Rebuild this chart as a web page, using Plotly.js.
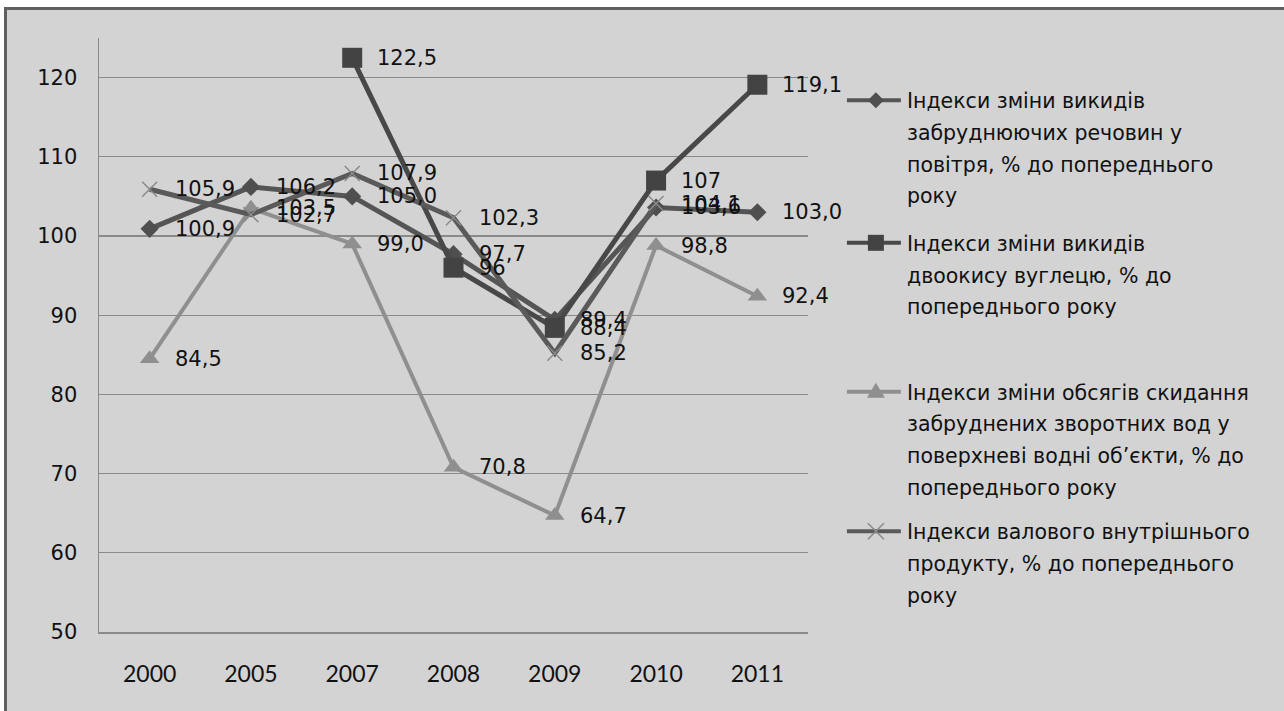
<!DOCTYPE html>
<html>
<head>
<meta charset="utf-8">
<script src="https://cdn.plot.ly/plotly-3.0.1.min.js"></script>
<style>
  html, body { margin: 0; padding: 0; background: #ffffff; }
  #chart {
    position: absolute; left: 4px; top: 7px;
    width: 1277px; height: 701px;
    border-left: 3px solid #606060; border-top: 3px solid #606060;
  }
</style>
</head>
<body>
<div id="chart"></div>
<script>
// ---- data ----
const categories = ['2000', '2005', '2007', '2008', '2009', '2010', '2011'];
const airEmissions = [100.9, 106.2, 105.0, 97.7, 89.4, 103.6, 103.0];
const co2Emissions = [null, null, 122.5, 96, 88.4, 107, 119.1];
const wasteWater = [84.5, 103.5, 99.0, 70.8, 64.7, 98.8, 92.4];
const gdp = [105.9, 102.7, 107.9, 102.3, 85.2, 104.1, null];
const yTicks = [50, 60, 70, 80, 90, 100, 110, 120];

const legendLines = [
  ['Індекси зміни викидів', 'забруднюючих речовин у', 'повітря, % до попереднього', 'року'],
  ['Індекси зміни викидів', 'двоокису вуглецю, % до', 'попереднього року'],
  ['Індекси зміни обсягів скидання', 'забруднених зворотних вод у', 'поверхневі водні об’єкти, % до', 'попереднього року'],
  ['Індекси валового внутрішнього', 'продукту, % до попереднього', 'року']
];

// ---- styles ----
const series = [
  { y: airEmissions, decimals: true, color: '#4f4f4f', lineColor: '#555555', width: 5,
    marker: { symbol: 'diamond', size: 14, color: '#4f4f4f' } },
  { y: co2Emissions, decimals: false, color: '#434343', lineColor: '#484848', width: 5,
    marker: { symbol: 'square', size: 20, color: '#434343' } },
  { y: wasteWater, decimals: true, color: '#8f8f8f', lineColor: '#8f8f8f', width: 4,
    marker: { symbol: 'triangle-up', size: 17, color: '#8f8f8f' } },
  { y: gdp, decimals: true, color: '#5a5a5a', lineColor: '#5a5a5a', width: 5,
    marker: { symbol: 'x-thin-open', size: 15, color: '#8a8a8a', line: { color: '#8a8a8a', width: 1.5 } } }
];

const fmt = (v, dec) => (dec ? v.toFixed(1) : String(v)).replace('.', ',');

const traces = series.map(s => ({
  type: 'scatter', mode: 'lines+markers',
  x: categories, y: s.y,
  line: { color: s.lineColor, width: s.width },
  marker: s.marker,
  connectgaps: false, showlegend: false, hoverinfo: 'skip'
}));

const annotations = [];
series.forEach(s => {
  s.y.forEach((v, i) => {
    if (v === null) return;
    annotations.push({
      x: i, y: v, xref: 'x', yref: 'y',
      text: fmt(v, s.decimals), showarrow: false,
      xanchor: 'left', yanchor: 'middle', xshift: 23,
      font: { family: 'DejaVu Sans', size: 21, color: '#111111' }
    });
  });
});

// ---- manual legend (image pixel -> paper) ----
const plotLeft = 99, plotW = 710, plotBottom = 631.7, plotH = 594;
const px = x => (x - plotLeft) / plotW;
const py = y => (plotBottom - y) / plotH;

const legendFirstLine = [101, 243.5, 392.5, 532];
const lineGap = 31.7;
const shapes = [];
legendLines.forEach((lines, k) => {
  const y0 = legendFirstLine[k];
  lines.forEach((t, j) => {
    annotations.push({
      x: px(906), y: py(y0 + j * lineGap), xref: 'paper', yref: 'paper',
      text: t, showarrow: false, xanchor: 'left', yanchor: 'middle',
      font: { family: 'DejaVu Sans', size: 20.5, color: '#111111' }
    });
  });
  const s = series[k];
  const symY = py(y0 - 1);
  shapes.push({
    type: 'line', xref: 'paper', yref: 'paper',
    x0: px(848), x1: px(902), y0: symY, y1: symY,
    line: { color: s.lineColor, width: 4 }
  });
  const cx = px(877);
  const common = { xref: 'paper', yref: 'paper', xsizemode: 'pixel', ysizemode: 'pixel',
                   xanchor: cx, yanchor: symY };
  if (k === 0) {
    shapes.push(Object.assign({ type: 'path', path: 'M-8,0 L0,8 L8,0 L0,-8 Z',
      fillcolor: s.color, line: { width: 0 } }, common));
  } else if (k === 1) {
    shapes.push(Object.assign({ type: 'rect', x0: -8, x1: 8, y0: -8, y1: 8,
      fillcolor: s.color, line: { width: 0 } }, common));
  } else if (k === 2) {
    shapes.push(Object.assign({ type: 'path', path: 'M-9,-6 L9,-6 L0,9 Z',
      fillcolor: s.color, line: { width: 0 } }, common));
  } else {
    shapes.push(Object.assign({ type: 'path', path: 'M-8,-8 L8,8 M-8,8 L8,-8',
      line: { color: '#8a8a8a', width: 1.5 } }, common));
  }
});

const layout = {
  width: 1277, height: 701,
  margin: { l: 92, r: 476, t: 28, b: 79, pad: 0 },
  paper_bgcolor: '#d3d3d3', plot_bgcolor: '#d3d3d3',
  showlegend: false,
  xaxis: {
    type: 'category', range: [-0.5, 6.5], fixedrange: true,
    showgrid: false, zeroline: false,
    showline: true, linecolor: '#8a8a8a', linewidth: 1.5,
    ticks: '', ticklabelstandoff: 21,
    tickfont: { family: 'Lato', size: 23, color: '#111111' }
  },
  yaxis: {
    range: [50, 125], tickvals: yTicks, fixedrange: true,
    showgrid: true, gridcolor: '#8a8a8a', gridwidth: 1.2,
    zeroline: false, showline: true, linecolor: '#8a8a8a', linewidth: 1.5,
    ticks: '', ticklabelstandoff: 16,
    tickfont: { family: 'DejaVu Sans', size: 21, color: '#111111' }
  },
  annotations: annotations,
  shapes: shapes
};

Plotly.newPlot('chart', traces, layout, { displayModeBar: false, staticPlot: true });
</script>
</body>
</html>
